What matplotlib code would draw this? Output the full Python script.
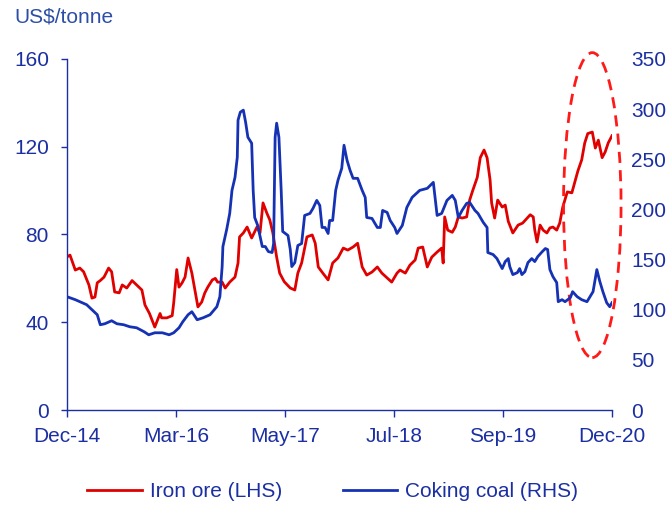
import numpy as np
import matplotlib
matplotlib.use('Agg')
import matplotlib.pyplot as plt
from matplotlib.patches import Ellipse

plt.rcParams['font.family'] = ['Liberation Sans', 'DejaVu Sans']

# ── Data (months since Dec-14) ───────────────────────────────────────────────
iron_months = [
    0.1, 0.4, 1.1, 1.7, 2.2, 2.9, 3.3, 3.7, 4.0, 4.4, 4.9, 5.5, 5.9, 6.3, 6.9,
    7.3, 7.9, 8.6, 9.2, 9.9, 10.3, 10.9, 11.6, 12.3, 12.5, 13.2, 13.9, 14.1,
    14.5, 14.8, 15.2, 15.6, 16.0, 16.5, 16.9, 17.3, 17.8, 18.2, 18.6, 19.2,
    19.6, 19.9, 20.5, 20.9, 21.5, 22.2, 22.6, 22.8, 23.3, 23.8, 24.4, 25.1,
    25.5, 25.9, 26.4, 26.8, 27.2, 27.7, 28.1, 28.7, 29.5, 30.1, 30.5, 31.0,
    31.7, 32.4, 32.8, 33.2, 33.8, 34.5, 35.1, 35.8, 36.5, 37.1, 37.8, 38.4,
    39.0, 39.6, 40.3, 41.0, 41.6, 42.3, 42.9, 43.6, 44.0, 44.7, 45.3, 46.0,
    46.4, 47.0, 47.6, 48.2, 48.9, 49.5, 49.7, 49.9, 50.3, 50.9, 51.3, 51.7,
    52.2, 52.8, 53.2, 53.6, 54.2, 54.6, 55.1, 55.5, 55.9, 56.1, 56.5, 56.9,
    57.5, 57.9, 58.3, 58.9, 59.6, 60.2, 61.2, 61.6, 61.8, 62.1, 62.5, 62.9,
    63.4, 63.8, 64.2, 64.7, 65.1, 65.5, 66.1, 66.7, 67.1, 67.5, 68.0, 68.4,
    68.8, 69.4, 69.8, 70.2, 70.7, 71.1, 71.5, 72.0,
]
iron_ore = [
    70, 70.6, 63.8, 64.7, 63, 57, 51, 51.5, 58, 59, 60.6, 64.7, 63, 53.8, 53.4,
    57, 55.6, 59, 57, 54.7, 47.9, 44, 37.8, 44, 42, 42, 43, 48.8,
    64, 56, 57.9, 60.6, 69.3, 62.4, 54.7, 47, 49.2, 53.3, 56, 59.3,
    60, 58.3, 58.3, 55.6, 58.3, 60.6, 67, 78.9, 80.7, 83.4, 78.4, 83.4,
    80.7, 94.4, 89.8, 86.6, 80.7, 69.7, 62.4, 58.5, 55.6, 54.7, 62.4, 67,
    78.9, 79.8, 76, 65.2, 62.4, 59.3, 67, 69.3, 73.8, 72.9, 74.3, 76,
    65.2, 61.5, 62.9, 65.2, 62.4, 60.2, 58.3, 62.4, 63.8, 62.4, 66, 68.4,
    73.8, 74.3, 65.2, 69.7, 72, 73.8, 67, 88, 82, 81, 83.4, 88,
    87.5, 88, 95.7, 100, 106, 115, 118.5, 115, 104.8, 94.4, 87.5, 95.7,
    92.5, 93.4, 86, 80.7, 84.3, 85.2, 89, 88, 82, 76.6, 84.3, 82,
    80.7, 83, 83.4, 82, 85.2, 92.5, 99.4, 99, 104, 109, 114, 121.7,
    126, 126.7, 119.4, 123, 115, 117.6, 121.7, 125,
]

coal_months = [
    0.1, 1.1, 2.0, 2.6, 3.3, 4.0, 4.4, 5.0, 5.9, 6.6, 7.5, 8.3, 9.2, 10.2, 10.8,
    11.6, 12.6, 13.5, 14.1, 14.8, 15.3, 16.0, 16.5, 17.2, 18.0, 18.9, 19.8,
    20.2, 20.5, 20.6, 21.1, 21.5, 21.8, 22.2, 22.5, 22.6, 22.9, 23.3, 23.6,
    23.9, 24.4, 24.6, 24.8, 25.2, 25.8, 26.2, 26.6, 27.1, 27.3, 27.5, 27.7,
    28.0, 28.3, 28.5, 29.2, 29.5, 29.7, 30.1, 30.5, 31.0, 31.4, 32.1, 32.5,
    33.0, 33.4, 33.7, 34.1, 34.5, 34.7, 35.1, 35.5, 35.8, 36.3, 36.6, 37.0,
    37.4, 37.8, 38.4, 39.0, 39.4, 39.6, 40.3, 41.0, 41.4, 41.7, 42.3, 42.7,
    43.3, 43.6, 44.3, 44.9, 45.6, 46.6, 47.6, 48.4, 48.9, 49.5, 50.2, 50.9,
    51.3, 51.7, 52.2, 52.8, 53.2, 53.9, 54.3, 55.0, 55.5, 55.6, 56.3, 56.8,
    57.5, 57.9, 58.3, 58.5, 58.9, 59.5, 59.8, 60.1, 60.5, 60.9, 61.4, 61.8,
    62.2, 62.8, 63.2, 63.5, 63.8, 64.2, 64.7, 64.9, 65.4, 65.8, 66.5, 66.8,
    67.4, 68.0, 68.7, 69.1, 69.5, 70.0, 70.4, 70.8, 71.3, 71.7, 72.0,
]
coking_coal = [
    112.7, 110, 107, 105, 100, 95, 85, 86, 89, 86, 85, 83, 82, 78, 75,
    77, 77, 75, 77, 82, 88, 95, 98, 90, 92, 95, 103,
    113, 143, 163, 180, 196, 219, 232, 252, 289, 297, 299, 287,
    272, 266, 219, 192, 184, 163, 163, 158, 157, 166, 272, 286,
    272, 219, 178, 174, 160, 143, 147, 164, 166, 194, 196, 201,
    209, 204, 182, 182, 176, 189, 189, 219, 229, 241, 264, 249,
    239, 231, 231, 219, 212, 192, 191, 182, 182, 199, 197, 189,
    182, 176, 184, 202, 212, 219, 221, 227, 194, 196, 209, 214,
    209, 192, 199, 206, 207, 199, 196, 187, 182, 157, 155, 151,
    141, 148, 151, 143, 135, 137, 141, 135, 138, 147, 151, 148,
    153, 158, 161, 160, 140, 133, 127, 108, 110, 108, 112, 118,
    113, 110, 108, 113, 118, 140, 128, 118, 107, 103, 107,
]

tick_labels = ['Dec-14', 'Mar-16', 'May-17', 'Jul-18', 'Sep-19', 'Dec-20']
left_ticks = [0, 40, 80, 120, 160]
right_ticks = [0, 50, 100, 150, 200, 250, 300, 350]

# ── Style ────────────────────────────────────────────────────────────────────
RED = '#e00000'
BLUE = '#1632b4'
AXIS = '#1b2fa3'
FS = 15

fig = plt.figure(figsize=(6.67, 5.05), dpi=100)
ax = fig.add_axes([0.1004, 0.1881, 0.8171, 0.6951])
ax2 = ax.twinx()

l1, = ax.plot(iron_months, iron_ore, color=RED, lw=2.0, label='Iron ore (LHS)')
l2, = ax2.plot(coal_months, coking_coal, color=BLUE, lw=2.0, label='Coking coal (RHS)')

ax.set_xlim(0, 72)
ax.set_ylim(0, 160)
ax2.set_ylim(0, 350)
ax.set_xticks(np.linspace(0, 72, len(tick_labels)))
ax.set_xticklabels(tick_labels)
ax.set_yticks(left_ticks)
ax2.set_yticks(right_ticks)

for a in (ax, ax2):
    for s in ('top', 'right'):
        a.spines[s].set_visible(False)
ax2.spines['left'].set_visible(False)
ax2.spines['bottom'].set_visible(False)
for s in ('left', 'bottom'):
    ax.spines[s].set_color(AXIS)
    ax.spines[s].set_linewidth(1.0)

ax.tick_params(axis='x', colors=AXIS, labelsize=FS, length=5, width=1.0, pad=7)
ax.tick_params(axis='y', colors=AXIS, labelsize=FS, length=4, width=1.0, pad=9)
ax2.tick_params(axis='y', colors=AXIS, labelsize=FS, length=0, pad=14)

# dashed highlight ellipse around latest period
ell = Ellipse((69.4, 93.4), width=7.6, height=139, fill=False, edgecolor='#ff1a1a',
              lw=2.0, ls=(0, (4, 2.6)), clip_on=False, zorder=5)
ax.add_patch(ell)

fig.text(0.021, 0.966, 'US$/tonne', fontsize=FS, color='#2d4ea6', va='center', ha='left')

fig.legend(handles=[l1, l2], loc='center', bbox_to_anchor=(0.499, 0.027), ncol=2,
           frameon=False, fontsize=FS, handlelength=2.6, handletextpad=0.4,
           columnspacing=2.9, labelcolor=AXIS)

fig.savefig('out.png', dpi=100, facecolor='white')
